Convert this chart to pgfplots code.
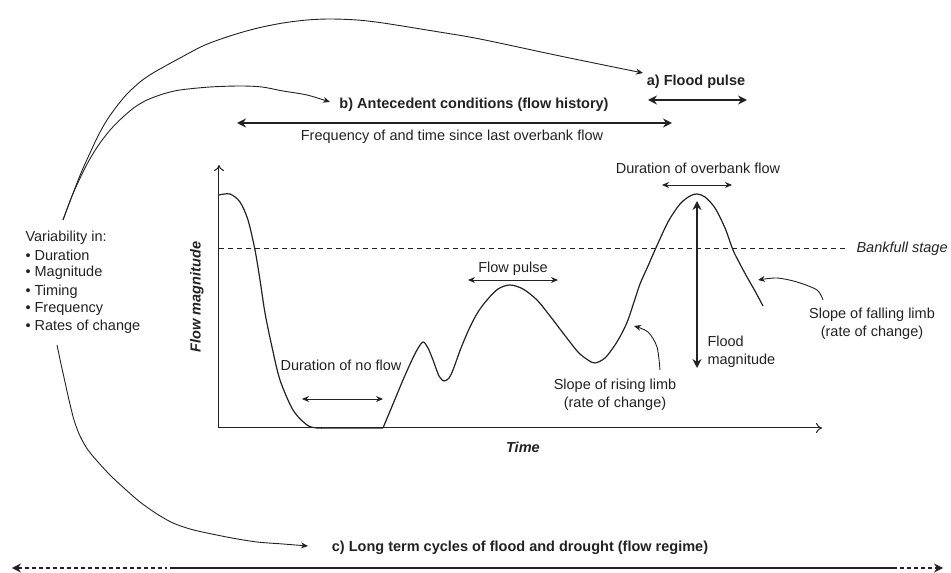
\documentclass[border=0pt]{standalone}
\usepackage{fontspec}
\setmainfont{Liberation Sans}
\usepackage{pgfplots}
\pgfplotsset{compat=1.18}
\usetikzlibrary{arrows.meta}

\definecolor{ink}{HTML}{222222}
\newcommand\fs{\fontsize{14.5}{18}\selectfont}

\begin{document}
\begin{tikzpicture}[font=\fs, color=ink]
\begin{axis}[
	width=603pt, height=263pt, scale only axis,
	xmin=219, xmax=822, ymin=144, ymax=407,
	axis lines=left,
	axis line style={line width=1pt, ink, -{To[length=6pt,width=10pt]}},
	xtick=\empty, ytick=\empty,
	xlabel={\bfseries\itshape Time},
	ylabel={\bfseries\itshape Flow magnitude},
	xlabel style={at={(axis description cs:0.504,-0.072)}, anchor=center},
	ylabel style={at={(axis description cs:-0.0365,0.498)}, anchor=center},
	clip=false,
	thin arrow/.style={line width=0.9pt, {Stealth[length=7pt,width=6pt]}-{Stealth[length=7pt,width=6pt]}},
	bold arrow/.style={line width=1.8pt, {Stealth[length=9pt,width=9pt,inset=3pt]}-{Stealth[length=9pt,width=9pt,inset=3pt]}},
	link/.style={smooth, tension=0.5, line width=0.9pt, ink, -{Stealth[length=7pt,width=6pt]}},
	]
	% page frame in pixel units
	\path (axis cs:0,0) rectangle (axis cs:951,572);

	% hydrograph
	\addplot[smooth, line width=1.2pt, ink] coordinates {
		(219,377)(230,378)(240,370)(248,352)(255,322)(260,292)(265,259)(272,225)
		(280,192)(293,162)(307,147)(317,144)(330,144)(383,144)
	};
	\addplot[smooth, line width=1.2pt, ink] coordinates {
		(383,144)(393,168)(403,192)(411,210)(417,222)(423,230)(428,224)(433,212)
		(439,196)(444,191)(449,194)(453,202)(461,224)(470,245)(478,260)(487,272)
		(498,283)(510,287)(523,283)(537,272)(550,256)(563,239)(578,220)(588,212)
		(595,209)(605,214)(615,227)(622,239)(628,252)(634,270)(640,288)(648,306)
		(655,322)(668,350)(680,368)(690,376)(697,378)(705,375)(715,364)(725,344)
		(733,322)(740,308)(747,295)(755,281)(763,266)
	};

	% bankfull stage
	\addplot[line width=1pt, ink, dash pattern=on 5pt off 4pt] coordinates {(219,323)(848,323)};
	\node[anchor=west, font=\fs\itshape] at (axis cs:853,323) {Bankfull stage};

	% left block
	\node[anchor=west] at (axis cs:22,334) {Variability in:};
	\node[anchor=west] at (axis cs:22,317) {• Duration};
	\node[anchor=west] at (axis cs:22,299) {• Magnitude};
	\node[anchor=west] at (axis cs:22,280) {• Timing};
	\node[anchor=west] at (axis cs:22,263) {• Frequency};
	\node[anchor=west] at (axis cs:22,245) {• Rates of change};

	% links from the left block
	\addplot[link] coordinates {
		(63,352)(72,376)(81,399)(90,419)(98,436)(107,452)(117,466)(127,478)
		(140,490)(153,499)(180,514)(205,527)(233,537)(258,544)(283,549)
		(307,552)(330,553)(357,552)(383,549)(433,541)(480,533)(560,516)(643,499)
	};
	\addplot[link] coordinates {
		(63,352)(72,376)(83,400)(91,415)(100,429)(111,443)(123,455)(135,465)
		(147,472)(163,478)(180,482)(210,485)(240,486)(262,485)(283,481)(307,477)(330,470)
	};
	\addplot[link] coordinates {
		(57,227)(61,208)(65,190)(69,172)(74,152)(80,136)(88,122)(98,110)
		(110,97)(125,83)(140,70)(157,58)(173,49)(190,43)(207,39)(232,34)
		(257,30)(283,28)(308,26)
	};

	% a) flood pulse
	\node[font=\fs\bfseries] at (axis cs:696,490) {a) Flood pulse};
	\addplot[bold arrow, ink] coordinates {(648,472)(747,472)};

	% b) antecedent conditions
	\node[font=\fs\bfseries] at (axis cs:474,467) {b) Antecedent conditions (flow history)};
	\addplot[bold arrow, ink] coordinates {(237,449)(672,449)};
	\node at (axis cs:452,435) {Frequency of and time since last overbank flow};

	% overbank flow
	\node at (axis cs:698,404) {Duration of overbank flow};
	\addplot[thin arrow, ink] coordinates {(662,387)(732,387)};

	% flow pulse
	\node at (axis cs:513,303) {Flow pulse};
	\addplot[thin arrow, ink] coordinates {(468,292)(558,292)};

	% no flow
	\node at (axis cs:341,207) {Duration of no flow};
	\addplot[thin arrow, ink] coordinates {(302,173)(383,173)};

	% rising limb
	\node[align=center] at (axis cs:615,177) {Slope of rising limb\\(rate of change)};
	\addplot[link] coordinates {(660,202)(657,225)(648,240)(634,246)};

	% flood magnitude
	\addplot[bold arrow, line width=1.4pt, ink] coordinates {(697,204)(697,371)};
	\node[anchor=west, align=left] at (axis cs:704,220) {Flood\\magnitude};

	% falling limb
	\node[align=center] at (axis cs:872,248) {Slope of falling limb\\(rate of change)};
	\addplot[link] coordinates {(823,272)(817,282)(797,290)(777,294)(758,292)};

	% c) long term cycles
	\node[font=\fs\bfseries] at (axis cs:520,24) {c) Long term cycles of flood and drought (flow regime)};
	\addplot[line width=1.3pt, ink, dash pattern=on 4pt off 3pt, {Stealth[length=9pt,width=9pt,inset=3pt]}-] coordinates {(12,4)(167,4)};
	\addplot[line width=2pt, ink] coordinates {(170,4)(897,4)};
	\addplot[line width=1.3pt, ink, dash pattern=on 4pt off 3pt, -{Stealth[length=9pt,width=9pt,inset=3pt]}] coordinates {(900,4)(943,4)};
\end{axis}
\end{tikzpicture}
\end{document}
